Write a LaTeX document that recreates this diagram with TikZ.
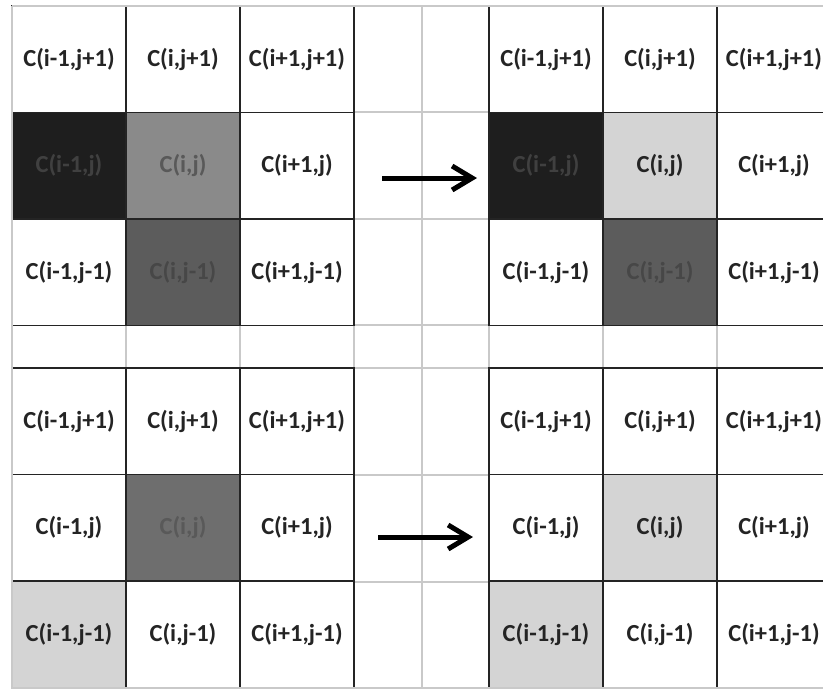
\documentclass[tikz,border=0pt]{standalone}
\usepackage{fontspec}
\setmainfont{Carlito}
\usetikzlibrary{arrows.meta}

\definecolor{sheet}{HTML}{C9C9C9}
\definecolor{cellblack}{HTML}{1E1E1E}
\definecolor{cellmid}{HTML}{8A8A8A}
\definecolor{cellgrey}{HTML}{6E6E6E}
\definecolor{celldark}{HTML}{5C5C5C}
\definecolor{celllight}{HTML}{D4D4D4}
\definecolor{ink}{HTML}{242424}

\tikzset{
  sheetline/.style={draw=sheet, line width=1.3pt},
  cellbox/.style={minimum width=114pt, minimum height=106.5pt, inner sep=0pt,
    draw=ink, line width=1.6pt, fill=white, text=ink,
    font=\fontsize{24.5}{28}\selectfont\bfseries},
  blackcell/.style={fill=cellblack, text=black!75},
  midcell/.style={fill=cellmid, text=black!65},
  greycell/.style={fill=cellgrey, text=black!65},
  darkcell/.style={fill=celldark, text=black!72},
  lightcell/.style={fill=celllight},
  pick/.code={\pgfkeysifdefined{/tikz/#1/.@cmd}{\pgfkeysalso{/tikz/#1}}{}},
  A-0-1/.style={blackcell}, A-1-1/.style={midcell}, A-1-2/.style={darkcell},
  B-0-1/.style={blackcell}, B-1-1/.style={lightcell}, B-1-2/.style={darkcell},
  C-1-1/.style={greycell}, C-0-2/.style={lightcell},
  D-1-1/.style={lightcell}, D-0-2/.style={lightcell},
  shiftarrow/.style={line width=5pt, -{Straight Barb[length=20pt,width=24pt]}}
}

\begin{document}
\begin{tikzpicture}[x=1pt, y=-1pt]
  \clip (0,0) rectangle (823,689);
  \fill[white] (0,0) rectangle (823,689);

  \foreach \x in {12,126,240,354,422,489,603,717}
    \draw[sheetline] (\x,6) -- (\x,689);
  \foreach \y in {6,112,219,325,368,475,582,688}
    \draw[sheetline] (12,\y) -- (823,\y);

  \foreach \g/\ox/\oy in {A/12/6, B/489/6, C/12/368, D/489/368} {
    \foreach \cx/\ci in {0/i-1, 1/i, 2/i+1} {
      \foreach \ry/\rj in {0/j+1, 1/j, 2/j-1} {
        \node[cellbox, pick=\g-\cx-\ry] (\g-\cx-\ry)
          at (\ox+57+114*\cx, \oy+53.25+106.5*\ry) {C(\ci,\rj)};
      }
    }
  }

  \draw[sheetline] (12,6) -- (823,6);
  \draw[sheetline] (12,6) -- (12,689);
  \draw[sheetline] (12,688) -- (823,688);

  \coordinate (topfrom) at (382,178);
  \coordinate (topto) at (477,178);
  \coordinate (botfrom) at (378,537);
  \coordinate (botto) at (473,537);
  \draw[shiftarrow] (topfrom) -- (topto);
  \draw[shiftarrow] (botfrom) -- (botto);
\end{tikzpicture}
\end{document}
